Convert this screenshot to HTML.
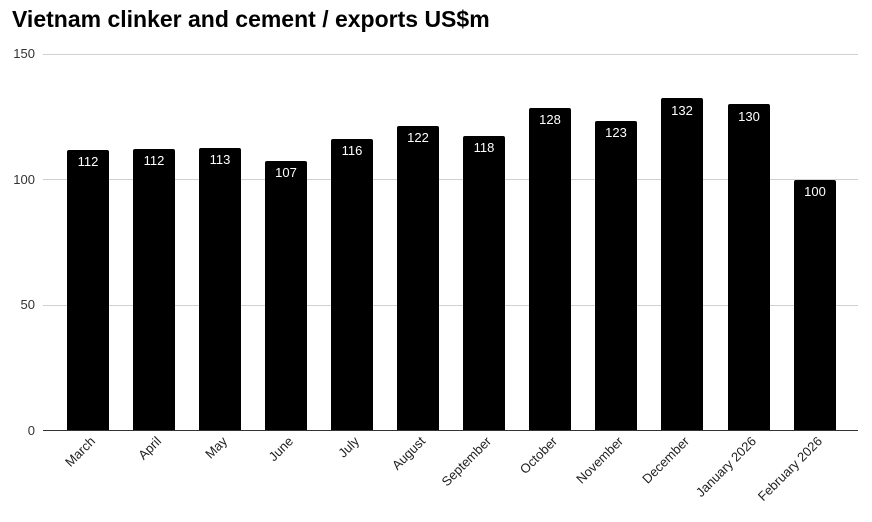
<!DOCTYPE html>
<html><head><meta charset="utf-8"><style>
html,body{margin:0;padding:0;background:#fff;}
svg{display:block;font-family:"Liberation Sans",Arial,sans-serif;}
</style></head><body>
<svg width="872" height="522" viewBox="0 0 872 522" xmlns="http://www.w3.org/2000/svg">
<text x="12" y="27" font-size="23" font-weight="bold" fill="#000">Vietnam clinker and cement / exports US$m</text>
<g stroke="#d0d0d0" stroke-width="1">
<line x1="43" y1="54.5" x2="858" y2="54.5"/>
<line x1="43" y1="179.5" x2="858" y2="179.5"/>
<line x1="43" y1="305.5" x2="858" y2="305.5"/>
</g>
<g font-size="13" fill="#333" text-anchor="end">
<text x="35" y="58">150</text>
<text x="35" y="184">100</text>
<text x="35" y="309">50</text>
<text x="35" y="435">0</text>
</g>
<g fill="#000">
<path d="M67,430V152a2,2 0 0 1 2,-2H107a2,2 0 0 1 2,2V430Z"/>
<path d="M133,430V151a2,2 0 0 1 2,-2H173a2,2 0 0 1 2,2V430Z"/>
<path d="M199,430V150a2,2 0 0 1 2,-2H239a2,2 0 0 1 2,2V430Z"/>
<path d="M265,430V163a2,2 0 0 1 2,-2H305a2,2 0 0 1 2,2V430Z"/>
<path d="M331,430V141a2,2 0 0 1 2,-2H371a2,2 0 0 1 2,2V430Z"/>
<path d="M397,430V128a2,2 0 0 1 2,-2H437a2,2 0 0 1 2,2V430Z"/>
<path d="M463,430V138a2,2 0 0 1 2,-2H503a2,2 0 0 1 2,2V430Z"/>
<path d="M529,430V110a2,2 0 0 1 2,-2H569a2,2 0 0 1 2,2V430Z"/>
<path d="M595,430V123a2,2 0 0 1 2,-2H635a2,2 0 0 1 2,2V430Z"/>
<path d="M661,430V100a2,2 0 0 1 2,-2H701a2,2 0 0 1 2,2V430Z"/>
<path d="M728,430V106a2,2 0 0 1 2,-2H768a2,2 0 0 1 2,2V430Z"/>
<path d="M794,430V182a2,2 0 0 1 2,-2H834a2,2 0 0 1 2,2V430Z"/>
</g>
<g font-size="13" fill="#fff" text-anchor="middle">
<text x="88" y="166">112</text>
<text x="154" y="165">112</text>
<text x="220" y="164">113</text>
<text x="286" y="177">107</text>
<text x="352" y="155">116</text>
<text x="418" y="142">122</text>
<text x="484" y="152">118</text>
<text x="550" y="124">128</text>
<text x="616" y="137">123</text>
<text x="682" y="115">132</text>
<text x="749" y="121">130</text>
<text x="815" y="196">100</text>
</g>
<line x1="43" y1="430.5" x2="858" y2="430.5" stroke="#333" stroke-width="1"/>
<g font-size="13" fill="#222" text-anchor="end">
<text transform="translate(96,442) rotate(-45)">March</text>
<text transform="translate(162,442) rotate(-45)">April</text>
<text transform="translate(228,442) rotate(-45)">May</text>
<text transform="translate(294,442) rotate(-45)">June</text>
<text transform="translate(360,442) rotate(-45)">July</text>
<text transform="translate(426,442) rotate(-45)">August</text>
<text transform="translate(492,442) rotate(-45)">September</text>
<text transform="translate(558,442) rotate(-45)">October</text>
<text transform="translate(624,442) rotate(-45)">November</text>
<text transform="translate(690,442) rotate(-45)">December</text>
<text transform="translate(757,442) rotate(-45)">January 2026</text>
<text transform="translate(823,442) rotate(-45)">February 2026</text>
</g>
</svg>
</body></html>
